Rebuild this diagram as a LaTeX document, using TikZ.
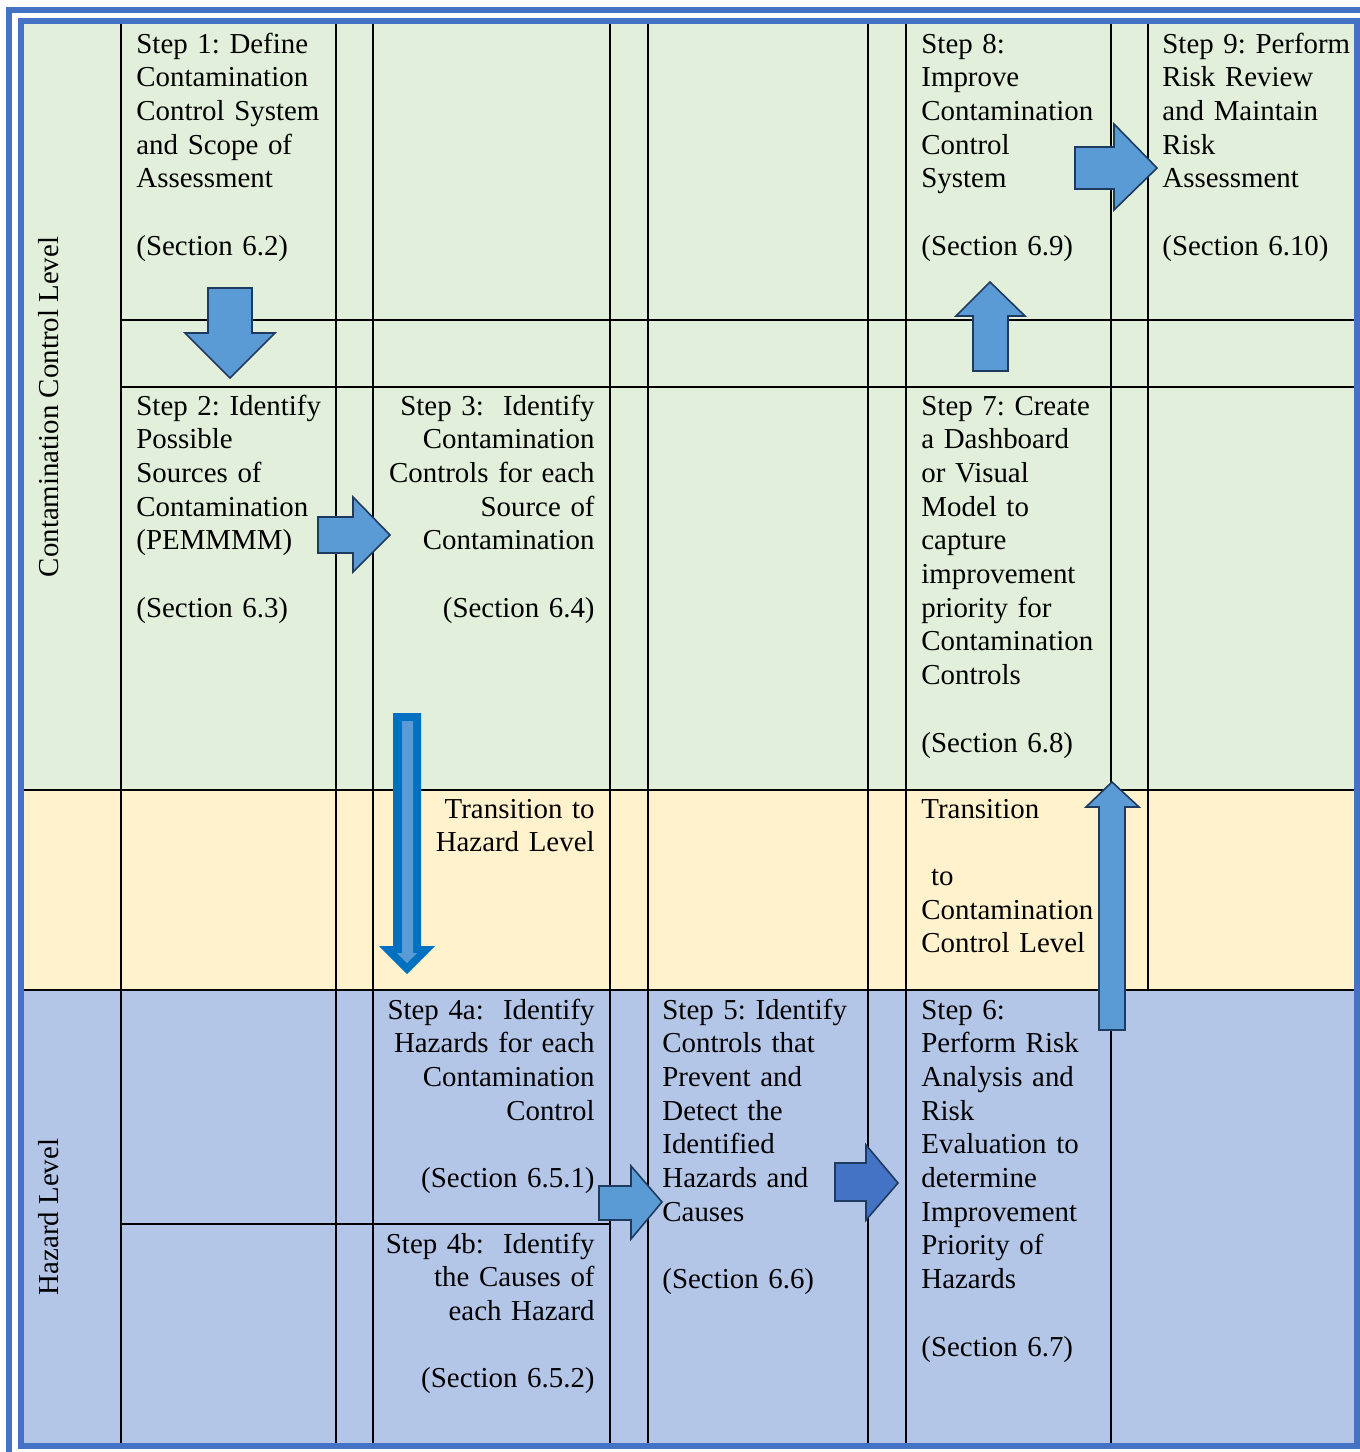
\documentclass[tikz,border=0pt]{standalone}
\usepackage{fontspec}
\setmainfont{Liberation Serif}
\definecolor{bggreen}{HTML}{E2EFDA}
\definecolor{bgyellow}{HTML}{FFF2CC}
\definecolor{bgblue}{HTML}{B4C6E7}
\definecolor{frameblue}{HTML}{4472C4}
\definecolor{arrowfill}{HTML}{5B9BD5}
\definecolor{arrowline}{HTML}{1F3A5F}
\definecolor{arrowdark}{HTML}{4472C4}
\definecolor{strongblue}{HTML}{0070C0}
\frenchspacing
\begin{document}
\begin{tikzpicture}[x=0.5pt,y=-0.5pt,
  grid/.style={line width=1pt, black},
  basefont/.style={font=\fontsize{14.45}{16.85}\selectfont\frenchspacing},
  txt/.style={basefont, inner sep=0pt, text width=110pt, align=left, anchor=base west},
  rtxt/.style={basefont, inner sep=0pt, text width=110pt, align=right, anchor=base east},
  lvl/.style={basefont, rotate=90, anchor=base, inner sep=0pt},
  blockarrow/.style={fill=arrowfill, draw=arrowline, line width=0.8pt, line join=miter},
  darkarrow/.style={blockarrow, fill=arrowdark},
  frame/.style={draw=frameblue, line width=3pt}
]
\useasboundingbox (0,0) rectangle (1360,1452);
\clip (0,0) rectangle (1360,1452);
\fill[white] (0,0) rectangle (1360,1452);
% backgrounds
\fill[bggreen] (24,24) rectangle (1354,790);
\fill[bgyellow] (24,790) rectangle (1354,990);
\fill[bgblue] (24,990) rectangle (1354,1443);
% frames
\draw[frame] (9,10) rectangle (1380,1475);
\draw[frame] (21,21) rectangle (1357,1446);
% grid
\foreach \gx in {121,336,373,610,648,868,906,1111}
  \draw[grid] (\gx,24) -- (\gx,1443);
\draw[grid] (1148,24) -- (1148,990);
\draw[grid] (121,320) -- (1354,320);
\draw[grid] (121,387) -- (1354,387);
\draw[grid] (24,790) -- (1354,790);
\draw[grid] (24,990) -- (1354,990);
\draw[grid] (121,1224) -- (610,1224);
% level labels
\node[lvl] (lvc) at (58,407) {Contamination Control Level};
\node[lvl] (lvh) at (58,1217) {Hazard Level};
% texts
\node[txt] (s1) at (136,53) {Step 1: Define\\Contamination\\Control System\\and Scope of\\Assessment\\[16.85pt](Section 6.2)};
\node[txt] (s2) at (136,415) {Step 2: Identify\\Possible\\Sources of\\Contamination\\(PEMMMM)\\[16.85pt](Section 6.3)};
\node[rtxt] (s3) at (595,415) {Step 3:\ \ Identify\\Contamination\\Controls for each\\Source of\\Contamination\\[16.85pt](Section 6.4)};
\node[txt] (s7) at (921,415) {Step 7: Create\\a Dashboard\\or Visual\\Model to\\capture\\improvement\\priority for\\Contamination\\Controls\\[16.85pt](Section 6.8)};
\node[txt] (s8) at (921,53) {Step 8:\\Improve\\Contamination\\Control\\System\\[16.85pt](Section 6.9)};
\node[txt] (s9) at (1162,53) {Step 9: Perform\\Risk Review\\and Maintain\\Risk\\Assessment\\[16.85pt](Section 6.10)};
\node[rtxt] (th) at (595,818) {Transition to\\Hazard Level};
\node[txt] (tc) at (921,818) {Transition\\[16.85pt]~to\\Contamination\\Control Level};
\node[rtxt] (s4a) at (595,1019) {Step 4a:\ \ Identify\\Hazards for each\\Contamination\\Control\\[16.85pt](Section 6.5.1)};
\node[rtxt] (s4b) at (595,1253) {Step 4b:\ \ Identify\\the Causes of\\each Hazard\\[16.85pt](Section 6.5.2)};
\node[txt] (s5) at (662,1019) {Step 5: Identify\\Controls that\\Prevent and\\Detect the\\Identified\\Hazards and\\Causes\\[16.85pt](Section 6.6)};
\node[txt] (s6) at (921,1019) {Step 6:\\Perform Risk\\Analysis and\\Risk\\Evaluation to\\determine\\Improvement\\Priority of\\Hazards\\[16.85pt](Section 6.7)};
% block arrows
\filldraw[blockarrow] (208,288) -- (252,288) -- (252,333) -- (275,333) -- (230,378) -- (185,333) -- (208,333) -- cycle;
\filldraw[blockarrow] (318,517) -- (353,517) -- (353,497) -- (390,535) -- (353,572) -- (353,553) -- (318,553) -- cycle;
\fill[strongblue] (393,713) -- (421,713) -- (421,946) -- (435,946) -- (407,974) -- (379,946) -- (393,946) -- cycle;
\fill[arrowfill] (402,721) -- (413,721) -- (413,953) -- (417,953) -- (407,963) -- (397,953) -- (402,953) -- cycle;
\filldraw[blockarrow] (599,1186) -- (631,1186) -- (631,1166) -- (662,1202) -- (631,1239) -- (631,1220) -- (599,1220) -- cycle;
\filldraw[darkarrow] (835,1163) -- (866,1163) -- (866,1145) -- (898,1183) -- (866,1220) -- (866,1201) -- (835,1201) -- cycle;
\filldraw[blockarrow] (973,371) -- (973,316) -- (956,316) -- (990,282) -- (1025,316) -- (1008,316) -- (1008,371) -- cycle;
\filldraw[blockarrow] (1075,147) -- (1114,147) -- (1114,124) -- (1157,168) -- (1114,210) -- (1114,189) -- (1075,189) -- cycle;
\filldraw[blockarrow] (1099,1030) -- (1099,807) -- (1086,807) -- (1112,782) -- (1139,807) -- (1125,807) -- (1125,1030) -- cycle;
\end{tikzpicture}
\end{document}
